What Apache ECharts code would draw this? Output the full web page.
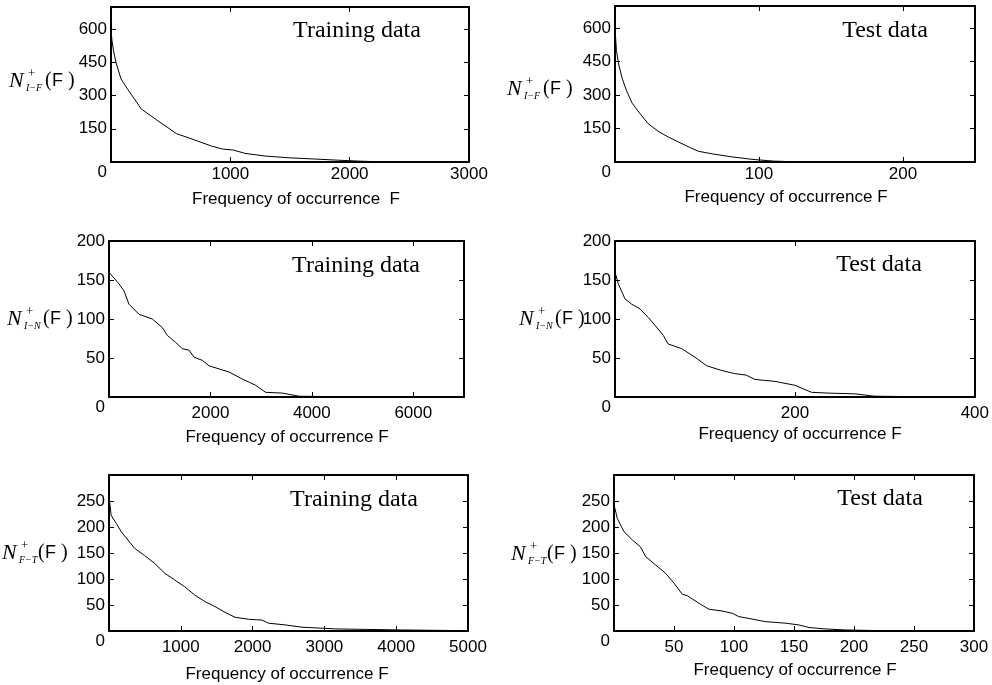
<!DOCTYPE html>
<html>
<head>
<meta charset="utf-8">
<script src="https://cdn.jsdelivr.net/npm/echarts@6/dist/echarts.min.js"></script>
<style>
html,body{margin:0;padding:0;background:#fff;}
#chart{width:992px;height:685px;}
</style>
</head>
<body>
<div id="chart"></div>
<script>
// ---- Data ----
// Row 1: N+_{I-F}(F)
const trainIF_x = [0, 8, 20, 42, 84, 140, 196, 253, 309, 393, 477, 548, 646, 744, 842, 940, 1025, 1123, 1291, 1488, 1685, 1909, 2078, 2246, 2471];
const trainIF_y = [595, 550, 505, 449, 375, 328, 285, 240, 218, 186, 155, 128, 110, 91, 72, 58, 54, 39, 27, 19, 14, 8, 4, 1, 0];
const testIF_x = [0, 1, 2.5, 5, 8, 12, 17, 23, 30, 37, 44, 52, 58, 68, 80, 95, 110, 125, 137];
const testIF_y = [600, 500, 440, 375, 320, 263, 220, 172, 138, 112, 90, 65, 48, 36, 24, 12, 4, 1, 0];
// Row 2: N+_{I-N}(F)
const trainIN_x = [0, 197, 296, 394, 592, 854, 1051, 1150, 1314, 1446, 1578, 1677, 1840, 1972, 2170, 2367, 2630, 2892, 3089, 3418, 3748, 4400, 6280];
const trainIN_y = [160, 145, 136, 119, 106, 100, 89, 79, 70, 62, 60, 51, 47, 40, 36, 32, 23, 15, 6, 5, 1, 0.5, 0.5];
const testIN_x = [0, 3.7, 11, 18.5, 27.8, 37, 48, 53.7, 59, 74, 89, 102, 118.5, 133, 146, 155.6, 178, 200, 218.5, 237, 267, 289, 330];
const testIN_y = [160, 145, 126, 119, 113, 102, 87, 79, 68, 62, 51, 40, 34, 30, 28, 22.5, 20, 15, 6, 5, 4, 1, 0.5];
// Row 3: N+_{F-T}(F)
const trainFT_x = [0, 31, 101, 171, 264, 357, 497, 636, 776, 916, 1056, 1196, 1336, 1476, 1615, 1755, 1942, 2129, 2222, 2455, 2688, 3154, 3621, 4087, 4740];
const trainFT_y = [258, 222, 207, 191, 175, 159, 145, 130, 111, 98, 85, 69, 56.5, 47, 36, 26.5, 22.6, 21, 15, 11.7, 7.3, 4, 3, 2, 1];
const testFT_x = [0, 2.8, 8.3, 15.3, 22, 26.4, 34.7, 43, 50, 57, 61, 71, 79, 90, 98.7, 104, 115, 126, 143, 154, 162.5, 176, 193, 215];
const testFT_y = [243, 216, 191, 175, 162, 143, 127, 111, 92, 70.5, 68, 53, 42, 38.5, 34, 27.7, 23, 18, 15, 11.7, 6.7, 4, 2, 1];

// Axis ranges / tick intervals
const xMax   = [3000, 250, 7000, 400, 5000, 300];
const xStep  = [1000, 100, 2000, 200, 1000, 50];
const yMax   = [700, 700, 200, 200, 300, 300];
const yStep  = [150, 150, 50, 50, 50, 50];
const showYMax = [false, false, true, true, false, false];
const showXMax = [true, false, false, true, true, true];

const panelTitles = ['Training data', 'Test data', 'Training data', 'Test data', 'Training data', 'Test data'];
const xNames = ['Frequency of occurrence  F', 'Frequency of occurrence F', 'Frequency of occurrence F',
                'Frequency of occurrence F', 'Frequency of occurrence F', 'Frequency of occurrence F'];
const ySubs = ['I\u2212F', 'I\u2212F', 'I\u2212N', 'I\u2212N', 'F\u2212T', 'F\u2212T'];

const seriesX = [trainIF_x, testIF_x, trainIN_x, testIN_x, trainFT_x, testFT_x];
const seriesY = [trainIF_y, testIF_y, trainIN_y, testIN_y, trainFT_y, testFT_y];

// ---- Layout (pixels) ----
const grids = [
  {left: 111, top: 7,   width: 358, height: 155},
  {left: 615, top: 6,   width: 360, height: 156},
  {left: 109, top: 241, width: 355, height: 156},
  {left: 615, top: 241, width: 360, height: 156},
  {left: 109, top: 475, width: 359, height: 156},
  {left: 614, top: 475, width: 360, height: 156}
];
const titlePos = [[357, 31], [885, 31], [356, 266], [879, 265], [354, 500], [880, 499]];
const xNamePos = [[296, 199], [786, 197], [287, 437], [800, 434], [287, 674], [795, 670]];
const yNamePos = [[9, 81], [507, 89], [7, 319], [519, 319], [2, 553], [511, 554]];
const xLabelMargin = [4, 4, 8, 8, 8, 8];

const SANS = 'Liberation Sans, Arial, Helvetica, sans-serif';
const SERIF = 'Liberation Serif, Times New Roman, serif';

const option = {
  backgroundColor: '#fff',
  animation: false,
  grid: grids.map(g => Object.assign({containLabel: false}, g)),
  xAxis: [],
  yAxis: [],
  series: [],
  graphic: []
};

for (let i = 0; i < 6; i++) {
  const lineStyle = {color: '#000', width: 2};
  const tick = {show: true, inside: true, length: 5, lineStyle: {color: '#000', width: 1}};
  option.xAxis.push({
    type: 'value', gridIndex: i, position: 'bottom', min: 0, max: xMax[i], interval: xStep[i],
    axisLine: {show: true, onZero: false, lineStyle},
    axisTick: tick,
    splitLine: {show: false},
    axisLabel: {color: '#000', fontSize: 17, fontFamily: SANS, margin: xLabelMargin[i],
                showMinLabel: false, showMaxLabel: showXMax[i],
                formatter: v => String(v)}
  });
  option.xAxis.push({
    type: 'value', gridIndex: i, position: 'top', min: 0, max: xMax[i], interval: xStep[i],
    axisLine: {show: true, onZero: false, lineStyle},
    axisTick: tick, splitLine: {show: false}, axisLabel: {show: false}
  });
  option.yAxis.push({
    type: 'value', gridIndex: i, position: 'left', min: 0, max: yMax[i], interval: yStep[i],
    axisLine: {show: true, onZero: false, lineStyle},
    axisTick: tick, splitLine: {show: false},
    axisLabel: {color: '#000', fontSize: 17, fontFamily: SANS, margin: 4,
                showMinLabel: true, showMaxLabel: showYMax[i],
                formatter: v => v === 0 ? '{z|0}' : String(v),
                rich: {z: {fontSize: 17, fontFamily: SANS, color: '#000', padding: [20, 0, 0, 0]}}}
  });
  option.yAxis.push({
    type: 'value', gridIndex: i, position: 'right', min: 0, max: yMax[i], interval: yStep[i],
    axisLine: {show: true, onZero: false, lineStyle},
    axisTick: tick, splitLine: {show: false}, axisLabel: {show: false}
  });
  option.series.push({
    type: 'line', xAxisIndex: 2 * i, yAxisIndex: 2 * i,
    data: seriesX[i].map((x, k) => [x, seriesY[i][k]]),
    showSymbol: false, symbol: 'none',
    lineStyle: {color: '#000', width: 1}, clip: true, silent: true
  });

  // panel title
  option.graphic.push({
    type: 'text', x: titlePos[i][0], y: titlePos[i][1], silent: true,
    style: {text: panelTitles[i], fill: '#000', font: '24px ' + SERIF, align: 'center', verticalAlign: 'middle'}
  });
  // x-axis name
  option.graphic.push({
    type: 'text', x: xNamePos[i][0], y: xNamePos[i][1], silent: true,
    style: {text: xNames[i], fill: '#000', font: '17px ' + SANS, align: 'center', verticalAlign: 'middle'}
  });
  // y-axis name  N^+_{sub}(F )
  const [ax, ay] = yNamePos[i];
  option.graphic.push({
    type: 'group', x: ax, y: ay, silent: true,
    children: [
      {type: 'text', x: 0, y: 0, style: {text: 'N', fill: '#000', font: 'italic 22px ' + SERIF, align: 'left', verticalAlign: 'middle'}},
      {type: 'text', x: 19, y: -7, style: {text: '+', fill: '#000', font: '13px ' + SERIF, align: 'left', verticalAlign: 'middle'}},
      {type: 'text', x: 17, y: 7, style: {text: ySubs[i], fill: '#000', font: 'italic 10px ' + SERIF, align: 'left', verticalAlign: 'middle'}},
      {type: 'text', x: 36, y: 0, style: {text: '(', fill: '#000', font: '20px ' + SERIF, align: 'left', verticalAlign: 'middle'}},
      {type: 'text', x: 43, y: 0, style: {text: 'F', fill: '#000', font: '18px ' + SANS, align: 'left', verticalAlign: 'middle'}},
      {type: 'text', x: 59, y: 0, style: {text: ')', fill: '#000', font: '20px ' + SERIF, align: 'left', verticalAlign: 'middle'}}
    ]
  });
}

const chart = echarts.init(document.getElementById('chart'), null, {renderer: 'canvas'});
chart.setOption(option);
</script>
</body>
</html>
